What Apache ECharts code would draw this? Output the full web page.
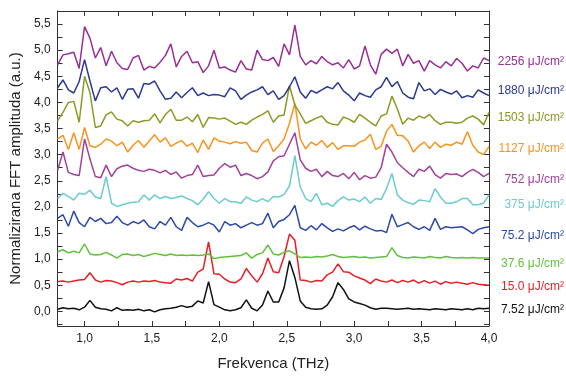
<!DOCTYPE html>
<html>
<head>
<meta charset="utf-8">
<script src="https://cdn.jsdelivr.net/npm/echarts@6.0.0/dist/echarts.min.js"></script>
<style>
  html, body { margin: 0; padding: 0; background: #fff; }
  #chart { width: 566px; height: 376px; }
</style>
</head>
<body>
<div id="chart"></div>
<script>
// FFT amplitude traces, sampled every 0.04 THz from 0.80 to 4.00 THz (offset per fluence)
const freqStart = 0.8;
const freqStep = 0.04;

const trace7_52 = [0.04, 0.07, 0.05, 0.06, 0.03, 0.08, 0.21, 0.08, 0.05, 0.04, 0.01, 0.07, 0.02, 0.03, 0.02, 0.04, 0.01, 0.03, -0.01, 0.03,
  0.05, 0.06, 0.08, 0.11, 0.08, 0.10, 0.20, 0.16, 0.57, 0.13, 0.08, 0.03, 0.01, 0.03, 0.07, 0.22, 0.06, 0.01, 0.12, 0.39,
  0.18, 0.18, 0.45, 0.97, 0.65, 0.20, 0.08, 0.05, 0.04, 0.05, 0.12, 0.28, 0.55, 0.42, 0.24, 0.18, 0.15, 0.12, 0.07, 0.04,
  0.06, 0.06, 0.05, 0.04, 0.05, 0.06, 0.04, 0.05, 0.04, 0.03, 0.05, 0.04, 0.03, 0.05, 0.04, 0.03, 0.05, 0.03, 0.06, 0.05, 0.06];

const trace15_0 = [0.57, 0.58, 0.56, 0.58, 0.60, 0.61, 0.74, 0.60, 0.56, 0.59, 0.58, 0.55, 0.51, 0.56, 0.58, 0.56, 0.58, 0.57, 0.59, 0.56,
  0.55, 0.54, 0.62, 0.60, 0.63, 0.58, 0.75, 0.81, 1.33, 0.72, 0.71, 0.62, 0.56, 0.55, 0.62, 0.82, 0.68, 0.56, 0.72, 1.02,
  0.76, 0.74, 1.05, 1.48, 1.36, 0.60, 0.59, 0.56, 0.59, 0.58, 0.70, 0.75, 0.91, 0.76, 0.75, 0.68, 0.64, 0.60, 0.53, 0.62,
  0.58, 0.56, 0.60, 0.55, 0.59, 0.56, 0.60, 0.54, 0.59, 0.54, 0.58, 0.52, 0.57, 0.54, 0.56, 0.54, 0.52, 0.55, 0.52, 0.51, 0.50];

const trace37_6 = [1.14, 1.18, 1.12, 1.15, 1.12, 1.29, 1.10, 1.08, 1.09, 1.13, 1.08, 1.02, 1.09, 1.10, 1.07, 1.09, 1.05, 1.08, 1.11, 1.09,
  1.07, 1.10, 1.07, 1.08, 1.07, 1.08, 1.07, 1.08, 1.10, 1.01, 1.03, 1.04, 1.05, 1.06, 1.07, 1.12, 1.02, 1.09, 1.12, 1.27,
  1.10, 1.08, 1.13, 1.16, 1.10, 1.03, 1.04, 1.03, 1.05, 1.04, 1.06, 1.09, 1.05, 1.03, 1.04, 1.05, 1.03, 1.04, 1.02, 1.03,
  1.04, 1.05, 1.22, 1.07, 1.03, 1.02, 1.04, 1.03, 1.02, 1.05, 1.03, 1.02, 1.05, 1.03, 1.02, 1.03, 1.02, 1.03, 1.02, 1.02, 1.02];

const trace75_2 = [1.78, 1.85, 1.63, 1.92, 1.70, 1.62, 1.80, 1.72, 1.78, 1.68, 1.70, 1.82, 1.70, 1.65, 1.72, 1.68, 1.75, 1.62, 1.58, 1.72,
  1.65, 1.80, 1.62, 1.55, 1.80, 1.70, 1.62, 1.65, 1.70, 1.65, 1.52, 1.72, 1.65, 1.68, 1.60, 1.65, 1.70, 1.65, 1.68, 1.88,
  1.60, 1.72, 1.76, 1.85, 2.03, 1.60, 1.55, 1.64, 1.56, 1.68, 1.60, 1.53, 1.58, 1.54, 1.60, 1.64, 1.56, 1.63, 1.58, 1.54,
  1.55, 1.51, 1.86, 1.62, 1.66, 1.70, 1.62, 1.57, 1.62, 1.55, 1.78, 1.57, 1.62, 1.60, 1.61, 1.62, 1.56, 1.49, 1.57, 1.60, 1.62];

const trace375 = [2.16, 2.26, 2.20, 2.13, 2.26, 2.24, 2.32, 2.19, 2.16, 2.58, 2.07, 2.01, 2.04, 2.07, 2.09, 2.10, 2.23, 2.13, 2.23, 2.16,
  2.20, 2.16, 2.18, 2.21, 2.16, 2.12, 2.04, 2.15, 2.29, 2.16, 2.07, 2.16, 2.10, 2.10, 2.07, 2.19, 2.13, 2.10, 2.16, 2.10,
  2.20, 2.19, 2.24, 2.40, 2.98, 2.38, 2.16, 2.10, 2.26, 2.04, 2.07, 2.01, 2.12, 2.19, 2.13, 2.15, 2.10, 2.19, 2.07, 2.16,
  2.14, 2.35, 2.64, 2.23, 2.13, 2.08, 2.05, 2.13, 2.12, 2.10, 2.35, 2.19, 2.07, 2.07, 2.10, 2.16, 2.16, 2.04, 2.04, 2.07, 2.23];

const trace752 = [2.70, 3.05, 2.66, 2.62, 2.60, 3.30, 2.92, 2.58, 2.56, 2.80, 2.58, 2.73, 2.78, 2.80, 2.74, 2.70, 2.68, 2.72, 2.70, 2.65,
  2.70, 2.62, 2.67, 2.55, 2.60, 2.62, 2.80, 2.58, 2.60, 2.61, 2.74, 2.83, 2.76, 2.80, 2.60, 2.64, 2.60, 2.54, 2.58, 2.67,
  2.88, 2.96, 2.98, 3.20, 3.42, 2.90, 2.74, 2.68, 2.72, 2.58, 2.68, 2.60, 2.58, 2.64, 2.54, 2.66, 2.52, 2.60, 2.55, 2.57,
  2.75, 3.20, 3.05, 2.85, 2.75, 2.66, 2.58, 2.72, 2.68, 2.78, 2.62, 2.55, 2.64, 2.62, 2.63, 2.58, 2.66, 2.72, 2.66, 2.58, 2.64];

const trace1127 = [3.30, 3.37, 3.10, 3.42, 3.10, 3.52, 3.17, 3.14, 3.20, 3.30, 3.26, 3.17, 3.24, 3.05, 3.18, 3.27, 3.14, 3.26, 3.38, 3.24,
  3.32, 3.16, 3.22, 3.27, 3.16, 3.22, 3.04, 3.28, 3.10, 3.32, 3.26, 3.24, 3.21, 3.25, 3.22, 3.24, 3.08, 3.05, 3.22, 3.30,
  3.06, 3.17, 3.30, 3.60, 3.98, 3.30, 3.11, 3.24, 3.18, 3.27, 3.14, 3.23, 3.10, 3.17, 3.17, 3.16, 3.24, 3.28, 3.39, 3.10,
  3.16, 3.45, 3.58, 3.37, 3.36, 3.26, 3.05, 3.17, 3.24, 3.12, 3.24, 3.14, 3.20, 3.18, 3.24, 3.20, 3.44, 3.18, 3.05, 3.00, 3.16];

const trace1503 = [3.65, 3.81, 4.00, 4.02, 3.62, 4.50, 4.19, 3.52, 3.55, 3.76, 3.82, 3.68, 3.65, 3.55, 3.65, 3.62, 3.65, 3.66, 3.78, 3.61,
  3.77, 3.87, 3.66, 3.66, 3.72, 3.63, 3.77, 3.52, 3.71, 3.70, 3.68, 3.70, 3.64, 3.58, 3.62, 3.58, 3.66, 3.72, 3.77, 3.84,
  3.62, 3.74, 3.76, 4.32, 3.95, 3.78, 3.60, 3.65, 3.70, 3.74, 3.62, 3.58, 3.57, 3.72, 3.68, 3.62, 3.77, 3.70, 3.62, 3.55,
  3.74, 3.78, 4.12, 3.88, 3.58, 3.70, 3.66, 3.74, 3.70, 3.77, 3.65, 3.58, 3.62, 3.62, 3.60, 3.62, 3.70, 3.74, 3.68, 3.57, 3.81];

const trace1880 = [4.28, 4.43, 4.24, 4.18, 4.40, 4.82, 4.41, 4.03, 4.28, 4.30, 4.20, 4.28, 4.06, 4.25, 4.26, 4.08, 4.36, 4.35, 4.41, 4.22,
  4.06, 4.08, 4.20, 4.09, 4.19, 4.28, 4.13, 4.18, 4.13, 4.15, 4.14, 4.11, 4.28, 4.22, 4.06, 4.14, 4.20, 4.24, 4.30, 4.15,
  4.22, 4.06, 4.13, 4.30, 4.49, 4.20, 4.08, 4.23, 4.18, 4.24, 4.30, 4.26, 4.38, 4.22, 4.14, 4.03, 4.18, 4.13, 4.10, 4.24,
  4.30, 4.48, 4.30, 4.40, 4.18, 4.10, 4.07, 4.38, 4.22, 4.26, 4.15, 4.25, 4.20, 4.16, 4.22, 4.09, 4.13, 4.10, 4.24, 4.18, 4.13];

const trace2256 = [4.72, 4.91, 4.93, 4.96, 4.65, 5.45, 5.23, 4.85, 5.05, 4.70, 4.98, 4.76, 4.65, 4.63, 4.85, 4.90, 4.62, 4.69, 4.66, 4.77,
  4.90, 5.12, 4.68, 4.88, 4.98, 4.76, 4.78, 4.57, 4.70, 5.00, 4.66, 4.68, 4.62, 4.58, 4.80, 4.64, 4.62, 5.00, 4.82, 4.80,
  4.86, 4.69, 5.12, 4.91, 5.48, 4.88, 4.72, 4.80, 4.74, 4.88, 4.78, 4.72, 4.76, 4.66, 4.82, 4.64, 4.70, 5.08, 4.72, 4.54,
  4.92, 5.02, 4.94, 5.02, 4.70, 4.92, 4.75, 4.80, 4.60, 4.80, 4.72, 4.66, 4.78, 4.70, 4.84, 4.75, 4.60, 4.70, 4.66, 4.85, 4.80];

// legend text on the right, with the level (a.u.) each label sits at
const fluenceNames = ['7.52', '15.0', '37.6', '75.2', '375', '752', '1127', '1503', '1880', '2256'];
const labelLevels = [0.04, 0.47, 0.91, 1.44, 2.05, 2.52, 3.11, 3.70, 4.23, 4.78];

const xTickValues = [1.0, 1.25, 1.5, 1.75, 2.0, 2.25, 2.5, 2.75, 3.0, 3.25, 3.5, 3.75, 4.0];
const xLabelValues = [1.0, 1.5, 2.0, 2.5, 3.0, 3.5, 4.0];
const yTickValues = [-0.25, 0, 0.25, 0.5, 0.75, 1.0, 1.25, 1.5, 1.75, 2.0, 2.25, 2.5, 2.75, 3.0,
  3.25, 3.5, 3.75, 4.0, 4.25, 4.5, 4.75, 5.0, 5.25, 5.5, 5.75];
const yLabelValues = [0, 0.5, 1.0, 1.5, 2.0, 2.5, 3.0, 3.5, 4.0, 4.5, 5.0, 5.5];

const traces = [trace7_52, trace15_0, trace37_6, trace75_2, trace375, trace752, trace1127, trace1503, trace1880, trace2256];
const colors = ['#111111', '#ec1c24', '#62c03c', '#2c4aa6', '#6ccbd3', '#a2419c', '#f7941d', '#8a9b22', '#2a3991', '#972f96'];

const freq = trace7_52.map((_, i) => +(freqStart + freqStep * i).toFixed(2));
const comma = (v) => v.toFixed(1).replace('.', ',');

const font = 'Arial, "Liberation Sans", sans-serif';
const axisColor = '#333';

const chart = echarts.init(document.getElementById('chart'));

const xBase = {
  type: 'value',
  min: 0.8,
  max: 4.0,
  axisLine: { show: true, onZero: false, lineStyle: { color: axisColor, width: 1 } },
  axisTick: { show: true, inside: true, length: 5, customValues: xTickValues, lineStyle: { color: axisColor } },
  splitLine: { show: false },
};
const yBase = {
  type: 'value',
  min: -0.28,
  max: 5.75,
  axisLine: { show: true, onZero: false, lineStyle: { color: axisColor, width: 1 } },
  axisTick: { show: true, inside: true, length: 5, customValues: yTickValues, lineStyle: { color: axisColor } },
  splitLine: { show: false },
};

chart.setOption({
  animation: false,
  backgroundColor: '#fff',
  grid: { left: 55, right: 77, top: 11, bottom: 47, containLabel: false },
  xAxis: [
    Object.assign({}, xBase, {
      position: 'bottom',
      name: 'Frekvenca (THz)',
      nameLocation: 'middle',
      nameGap: 30,
      nameTextStyle: { fontSize: 15, color: '#222', fontFamily: font },
      axisLabel: {
        show: true, customValues: xLabelValues, margin: 7,
        fontSize: 12, color: '#222', fontFamily: font, formatter: comma,
      },
    }),
    Object.assign({}, xBase, { position: 'top', axisLabel: { show: false } }),
  ],
  yAxis: [
    Object.assign({}, yBase, {
      position: 'left',
      name: 'Normalizirana FFT amplituda (a.u.)',
      nameLocation: 'middle',
      nameGap: 32,
      nameTextStyle: { fontSize: 15, color: '#222', fontFamily: font },
      axisLabel: {
        show: true, customValues: yLabelValues, margin: 7,
        fontSize: 12, color: '#222', fontFamily: font, formatter: comma,
      },
    }),
    Object.assign({}, yBase, { position: 'right', axisLabel: { show: false } }),
  ],
  series: traces.map((vals, k) => ({
    name: fluenceNames[k],
    type: 'line',
    xAxisIndex: 0,
    yAxisIndex: 0,
    showSymbol: false,
    symbol: 'none',
    lineStyle: { color: colors[k], width: 1.5 },
    data: vals.map((v, i) => [freq[i], v]),
  })),
});

// right-hand fluence labels, anchored to the y scale
const labels = fluenceNames.map((name, k) => {
  const pt = chart.convertToPixel({ xAxisIndex: 0, yAxisIndex: 0 }, [4.0, labelLevels[k]]);
  return {
    type: 'text',
    x: 564,
    y: pt[1],
    style: {
      text: name + ' \u03bcJ/cm\u00b2',
      fill: colors[k],
      fontSize: 12,
      fontFamily: font,
      align: 'right',
      verticalAlign: 'middle',
    },
  };
});
chart.setOption({ graphic: labels });
</script>
</body>
</html>
